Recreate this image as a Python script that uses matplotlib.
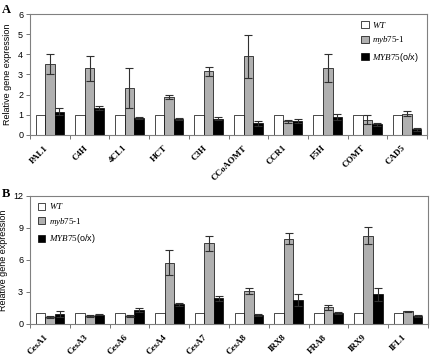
import numpy as np
import matplotlib.pyplot as plt
from matplotlib.patches import Patch

plt.rcParams['font.family'] = 'Liberation Sans'
plt.rcParams['mathtext.fontset'] = 'custom'
plt.rcParams['mathtext.it'] = 'Liberation Serif:italic'
plt.rcParams['mathtext.rm'] = 'Liberation Serif'

# panel A: lignin genes
genes_a = ['PAL1', 'C4H', '4CL1', 'HCT', 'C3H', 'CCoAOMT', 'CCR1', 'F5H', 'COMT', 'CAD5']
wt_a = [1, 1, 1, 1, 1, 1, 1, 1, 1, 1]
myb_a = [3.5, 3.3, 2.33, 1.87, 3.15, 3.9, 0.67, 3.33, 0.75, 1.05]
myb_a_err = [0.5, 0.62, 0.98, 0.1, 0.22, 1.05, 0.08, 0.68, 0.22, 0.12]
ox_a = [1.15, 1.33, 0.83, 0.77, 0.8, 0.57, 0.68, 0.87, 0.52, 0.28]
ox_a_err = [0.18, 0.1, 0.05, 0.05, 0.08, 0.12, 0.1, 0.15, 0.08, 0.06]

# panel B: cell wall genes
genes_b = ['CesA1', 'CesA3', 'CesA6', 'CesA4', 'CesA7', 'CesA8', 'IRX8', 'FRA8', 'IRX9', 'IFL1']
wt_b = [1, 1, 1, 1, 1, 1, 1, 1, 1, 1]
myb_b = [0.65, 0.75, 0.75, 5.75, 7.55, 3.1, 8.0, 1.55, 8.25, 1.2]
myb_b_err = [0.1, 0.1, 0.1, 1.15, 0.7, 0.25, 0.5, 0.22, 0.8, 0.05]
ox_b = [0.95, 0.85, 1.3, 1.85, 2.4, 0.85, 2.25, 1.0, 2.8, 0.75]
ox_b_err = [0.3, 0.05, 0.2, 0.12, 0.25, 0.08, 0.55, 0.1, 0.6, 0.1]

labels = ['$\\it{WT}$', '$\\it{myb75}$-$\\it{1}$', '$\\it{MYB75}$(o/x)']
colors = ['white', '#b0b0b0', 'black']


def draw_panel(ax, genes, wt, myb, myb_err, ox, ox_err, ymax, ystep, legend_loc, legend_anchor):
    x = np.arange(len(genes))
    w = 0.24
    ekw = dict(ecolor='#303030', elinewidth=0.8, capsize=3, capthick=0.8)
    ax.bar(x - w, wt, w, color=colors[0], edgecolor='black', linewidth=0.5)
    ax.bar(x, myb, w, color=colors[1], edgecolor='black', linewidth=0.5,
           yerr=myb_err, error_kw=ekw)
    ax.bar(x + w, ox, w, color=colors[2], edgecolor='black', linewidth=0.5,
           yerr=ox_err, error_kw=ekw)
    ax.set_xlim(-0.5, len(genes) - 0.5)
    ax.set_ylim(0, ymax)
    ax.set_yticks(np.arange(0, ymax + 0.01, ystep))
    ax.set_xticks(np.arange(-0.5, len(genes)), minor=False)
    ax.set_xticklabels([])
    # labels sit a little left of the group centre, as in the original
    ax.set_xticks(x - 0.15, minor=True)
    ax.set_xticklabels(genes, minor=True, rotation=45, ha='right', va='top',
                       rotation_mode='anchor', family='Liberation Serif',
                       fontweight='bold', fontsize=6.5)
    ax.tick_params(axis='x', which='minor', length=0, pad=6.5)
    ax.tick_params(axis='x', which='major', length=3, width=0.6, color='#606060')
    ax.tick_params(axis='y', labelsize=6.5, length=3, width=0.6, color='#606060', pad=2)
    for s in ax.spines.values():
        s.set_color('#808080')
        s.set_linewidth(0.8)
    ax.set_ylabel('Relative gene expression', fontsize=6.5, labelpad=4)
    handles = [Patch(facecolor=c, edgecolor='black', linewidth=0.5) for c in colors]
    ax.legend(handles, labels, loc=legend_loc, bbox_to_anchor=legend_anchor,
              frameon=False, fontsize=6.5, handlelength=0.8, handleheight=0.8,
              handletextpad=0.4, labelspacing=0.5)


fig = plt.figure(figsize=(4.3, 3.59), dpi=100)
ax_a = fig.add_axes([0.07, 0.624, 0.923, 0.337])
ax_b = fig.add_axes([0.07, 0.0975, 0.925, 0.357])

draw_panel(ax_a, genes_a, wt_a, myb_a, myb_a_err, ox_a, ox_a_err, 6, 1,
           'upper right', (1.0, 1.02))
draw_panel(ax_b, genes_b, wt_b, myb_b, myb_b_err, ox_b, ox_b_err, 12, 3,
           'upper left', (0.0, 1.02))

fig.text(0.005, 0.99, 'A', family='Liberation Serif', fontweight='bold', fontsize=9, va='top')
fig.text(0.005, 0.475, 'B', family='Liberation Serif', fontweight='bold', fontsize=9, va='top')

fig.savefig('out.png', dpi=100)
